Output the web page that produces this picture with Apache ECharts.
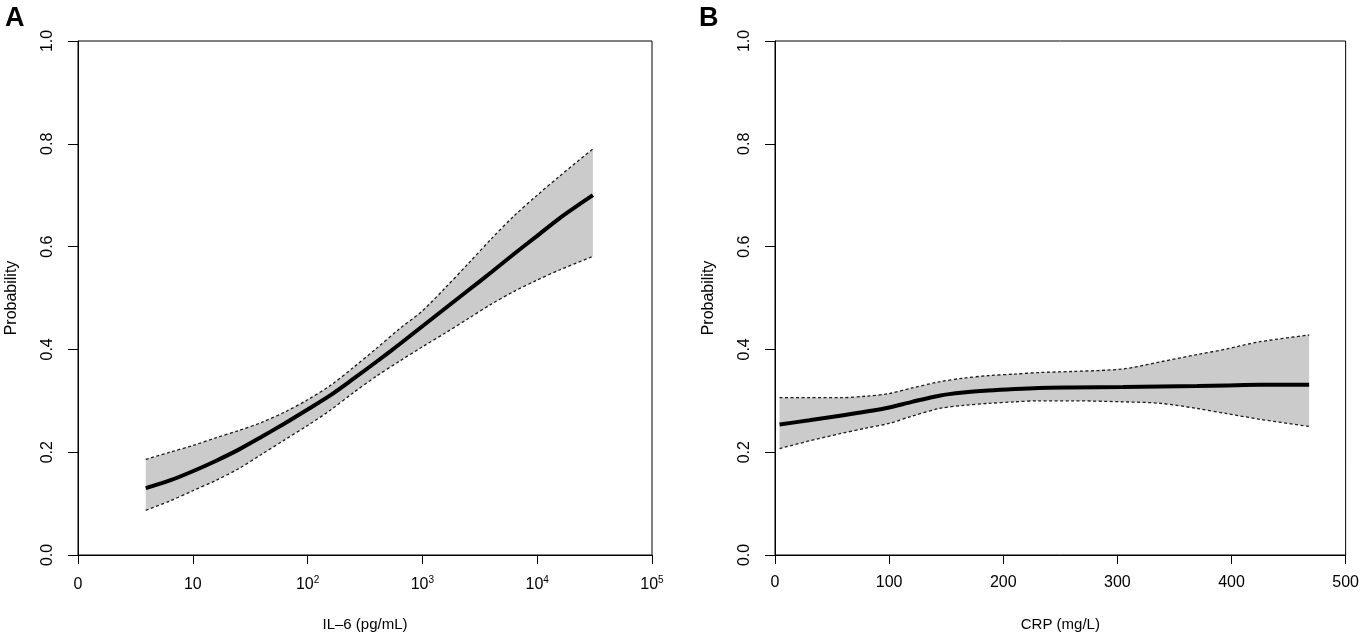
<!DOCTYPE html>
<html>
<head>
<meta charset="utf-8">
<script src="https://cdn.jsdelivr.net/npm/echarts@6/dist/echarts.min.js"></script>
<style>
html,body{margin:0;padding:0;background:#fff;}
#chart{width:1362px;height:637px;}
</style>
</head>
<body>
<div id="chart"></div>
<script>
// Panel A: IL-6 on log10 axis (axis units = log10 positions)
const il6Log   = [0.59, 0.8, 1.0, 1.2, 1.4, 1.6, 1.8, 2.0, 2.2, 2.4, 2.6, 2.8, 3.0, 3.2, 3.4, 3.6, 3.8, 4.0, 4.2, 4.485];
const il6Fit   = [0.130, 0.145, 0.163, 0.183, 0.205, 0.230, 0.256, 0.283, 0.311, 0.343, 0.376, 0.410, 0.445, 0.480, 0.515, 0.550, 0.586, 0.621, 0.656, 0.700];
const il6Upper = [0.186, 0.200, 0.213, 0.228, 0.242, 0.258, 0.278, 0.302, 0.330, 0.365, 0.402, 0.440, 0.475, 0.520, 0.567, 0.615, 0.660, 0.700, 0.738, 0.790];
const il6Lower = [0.087, 0.105, 0.125, 0.145, 0.168, 0.196, 0.224, 0.252, 0.282, 0.316, 0.348, 0.377, 0.405, 0.432, 0.460, 0.488, 0.513, 0.535, 0.555, 0.581];
const il6TickLabels = ['0', '10', '10|2', '10|3', '10|4', '10|5'];

// Panel B: CRP (mg/L)
const crp      = [4, 30, 57, 80, 100, 120, 144, 165, 187, 210, 231, 260, 305, 338, 370, 396, 425, 468];
const crpFit   = [0.254, 0.262, 0.271, 0.279, 0.287, 0.298, 0.310, 0.316, 0.320, 0.323, 0.325, 0.326, 0.327, 0.328, 0.329, 0.330, 0.331, 0.331];
const crpUpper = [0.306, 0.306, 0.306, 0.309, 0.314, 0.325, 0.337, 0.344, 0.349, 0.352, 0.355, 0.357, 0.362, 0.376, 0.390, 0.401, 0.415, 0.428];
const crpLower = [0.207, 0.222, 0.236, 0.247, 0.256, 0.270, 0.285, 0.291, 0.295, 0.298, 0.300, 0.300, 0.298, 0.295, 0.285, 0.275, 0.264, 0.250];

const FONT = 'Liberation Sans, Arial, Helvetica, sans-serif';
const bandColor = '#cbcbcb';

function pairs(xs, ys) { return xs.map((x, i) => [x, ys[i]]); }

function bandSeries(idx, xs, fit, up, lo, name) {
  const common = { xAxisIndex: idx, yAxisIndex: idx, silent: true };
  const lineCommon = Object.assign({}, common, { type: 'line', showSymbol: false, symbol: 'none', smooth: 0.3 });
  return [
    Object.assign({}, common, {
      type: 'custom', name: name + '-band', coordinateSystem: 'cartesian2d', clip: true,
      data: xs.map((x, i) => [x, up[i], lo[i]]),
      encode: { x: 0, y: [1, 2] },
      renderItem: function (params, api) {
        if (params.dataIndex !== 0) return null;
        const top = xs.map((x, i) => api.coord([x, up[i]]));
        const bot = xs.map((x, i) => api.coord([x, lo[i]])).reverse();
        return { type: 'polygon', shape: { points: top.concat(bot) }, style: { fill: bandColor, stroke: null } };
      },
      z: 1
    }),
    Object.assign({}, lineCommon, { name: name + '-upper', data: pairs(xs, up), lineStyle: { color: '#1a1a1a', width: 1.3, type: [3, 2.5] }, z: 2 }),
    Object.assign({}, lineCommon, { name: name + '-lower', data: pairs(xs, lo), lineStyle: { color: '#1a1a1a', width: 1.3, type: [3, 2.5] }, z: 2 }),
    Object.assign({}, lineCommon, { name: name + '-fit', data: pairs(xs, fit), lineStyle: { color: '#000', width: 4 }, z: 3 })
  ];
}

function yAxisDef(idx) {
  return {
    type: 'value', gridIndex: idx, min: 0, max: 1, interval: 0.2,
    name: 'Probability', nameLocation: 'middle', nameGap: 58,
    nameTextStyle: { fontFamily: FONT, fontSize: 16, color: '#000' },
    axisLine: { show: true, lineStyle: { color: '#000', width: 1 } },
    axisTick: { show: true, length: 10, lineStyle: { color: '#000', width: 1 } },
    axisLabel: { rotate: 90, margin: 22, fontFamily: FONT, fontSize: 16, color: '#000', formatter: v => v.toFixed(1) },
    splitLine: { show: false }
  };
}

const option = {
  animation: false,
  backgroundColor: '#fff',
  title: [
    { text: 'A', left: 0, top: 0, textStyle: { fontFamily: FONT, fontSize: 27, fontWeight: 'bold', color: '#000' } },
    { text: 'B', left: 694, top: 0, textStyle: { fontFamily: FONT, fontSize: 27, fontWeight: 'bold', color: '#000' } }
  ],
  grid: [
    { left: 78, top: 41, width: 574, height: 516, show: true, borderColor: '#000', borderWidth: 1, backgroundColor: 'transparent' },
    { left: 775, top: 41, width: 574, height: 516, show: true, borderColor: '#000', borderWidth: 1, backgroundColor: 'transparent' }
  ],
  xAxis: [
    {
      type: 'value', gridIndex: 0, min: 0, max: 5, interval: 1,
      name: 'IL\u20136 (pg/mL)', nameLocation: 'middle', nameGap: 62,
      nameTextStyle: { fontFamily: FONT, fontSize: 15, color: '#000' },
      axisLine: { show: true, onZero: false, lineStyle: { color: '#000', width: 1 } },
      axisTick: { show: true, length: 9, lineStyle: { color: '#000', width: 1 } },
      axisLabel: {
        margin: 20, fontFamily: FONT, fontSize: 16, color: '#000', showMinLabel: true, showMaxLabel: true,
        formatter: (v) => {
          const lab = il6TickLabels[Math.round(v)];
          if (lab.indexOf('|') < 0) return '{b|' + lab + '}';
          const p = lab.split('|');
          return '{b|' + p[0] + '}{s|' + p[1] + '}';
        },
        rich: {
          b: { fontFamily: FONT, fontSize: 16, color: '#000', verticalAlign: 'bottom', lineHeight: 18 },
          s: { fontFamily: FONT, fontSize: 10, color: '#000', verticalAlign: 'top', lineHeight: 10 }
        }
      },
      splitLine: { show: false }
    },
    {
      type: 'value', gridIndex: 1, min: 0, max: 500, interval: 100,
      name: 'CRP (mg/L)', nameLocation: 'middle', nameGap: 62,
      nameTextStyle: { fontFamily: FONT, fontSize: 15, color: '#000' },
      axisLine: { show: true, onZero: false, lineStyle: { color: '#000', width: 1 } },
      axisTick: { show: true, length: 9, lineStyle: { color: '#000', width: 1 } },
      axisLabel: { margin: 20, fontFamily: FONT, fontSize: 16, color: '#000', showMinLabel: true, showMaxLabel: true },
      splitLine: { show: false }
    }
  ],
  yAxis: [yAxisDef(0), yAxisDef(1)],
  series: [].concat(
    bandSeries(0, il6Log, il6Fit, il6Upper, il6Lower, 'il6'),
    bandSeries(1, crp, crpFit, crpUpper, crpLower, 'crp')
  )
};

const chart = echarts.init(document.getElementById('chart'), null, { renderer: 'canvas' });
chart.setOption(option);
</script>
</body>
</html>
